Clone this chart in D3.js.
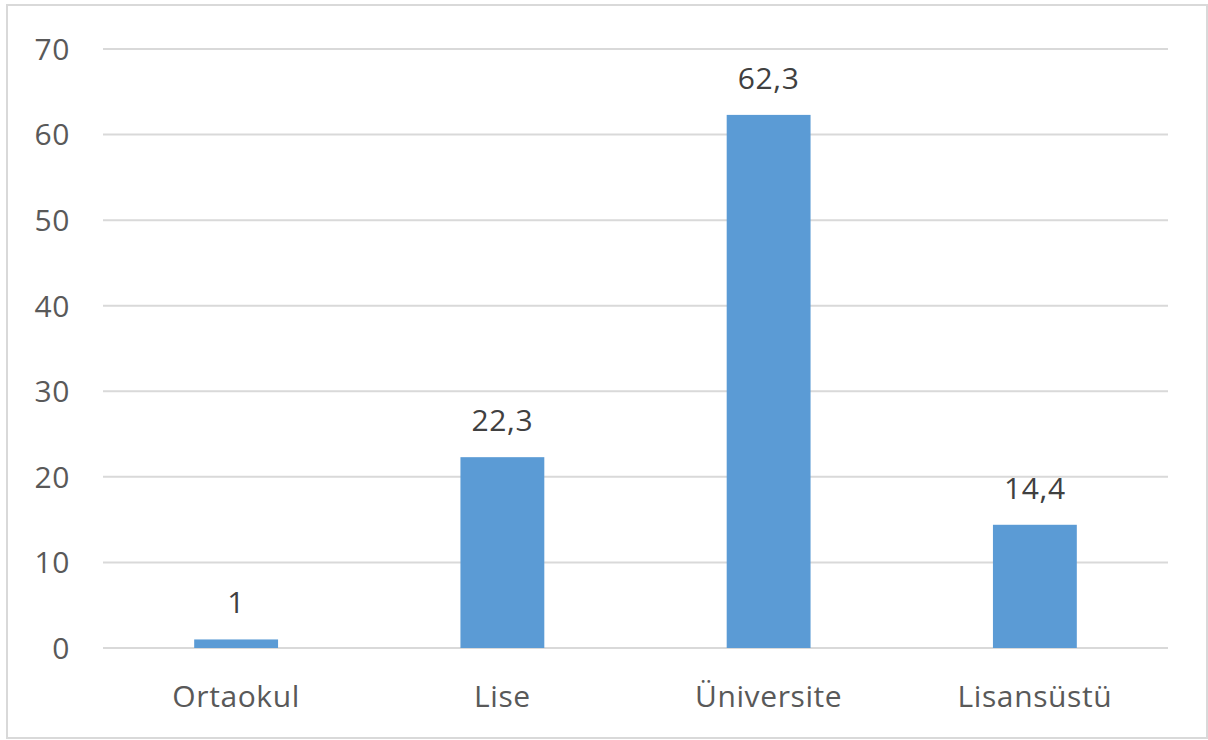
<!DOCTYPE html>
<html>
<head>
<meta charset="utf-8">
<script src="https://cdn.jsdelivr.net/npm/d3@7"></script>
<style>
  body { margin: 0; background: #fff; }
  text { font-family: "Open Sans", sans-serif; letter-spacing: 0.6px; }
</style>
</head>
<body>
<div id="container"></div>
<script>
const categories = ["Ortaokul", "Lise", "Üniversite", "Lisansüstü"];
const values = [1, 22.3, 62.3, 14.4];
const labels = ["1", "22,3", "62,3", "14,4"];
const yTicks = [0, 10, 20, 30, 40, 50, 60, 70];

const w = 1208;
const h = 740;
const plotLeft = 103, plotRight = 1168, plotTop = 49, plotBottom = 648;

const svg = d3.select("#container")
  .append("svg")
  .attr("width", w)
  .attr("height", h);

svg.append("rect")
  .attr("x", 7).attr("y", 5)
  .attr("width", 1200).attr("height", 733)
  .attr("fill", "#fff")
  .attr("stroke", "#d9d9d9")
  .attr("stroke-width", 2);

const xScale = d3.scaleBand()
  .domain(categories)
  .range([plotLeft, plotRight])
  .paddingInner(0.685)
  .paddingOuter(0.3425);

const yScale = d3.scaleLinear()
  .domain([0, 70])
  .range([plotBottom, plotTop]);

// gridlines
svg.append("g")
  .selectAll("line")
  .data(yTicks)
  .enter()
  .append("line")
  .attr("x1", plotLeft)
  .attr("x2", plotRight)
  .attr("y1", d => yScale(d))
  .attr("y2", d => yScale(d))
  .attr("stroke", "#d9d9d9")
  .attr("stroke-width", 2);

// y tick labels
svg.append("g")
  .selectAll("text")
  .data(yTicks)
  .enter()
  .append("text")
  .attr("x", 70)
  .attr("y", d => yScale(d))
  .attr("dy", "0.36em")
  .attr("text-anchor", "end")
  .attr("font-size", 30)
  .attr("fill", "#595959")
  .text(d => d);

svg.selectAll("rect.bar")
  .data(values)
  .enter()
  .append("rect")
  .attr("class", "bar")
  .attr("x", (d, i) => xScale(categories[i]))
  .attr("y", d => yScale(d))
  .attr("width", xScale.bandwidth())
  .attr("height", d => yScale(0) - yScale(d))
  .attr("fill", "#5b9bd5");

// value labels
svg.selectAll("text.val")
  .data(values)
  .enter()
  .append("text")
  .attr("class", "val")
  .attr("x", (d, i) => xScale(categories[i]) + xScale.bandwidth() / 2)
  .attr("y", d => yScale(d) - 26)
  .attr("text-anchor", "middle")
  .attr("font-size", 30)
  .attr("fill", "#404040")
  .text((d, i) => labels[i]);

// category labels
svg.append("g")
  .selectAll("text")
  .data(categories)
  .enter()
  .append("text")
  .attr("x", d => xScale(d) + xScale.bandwidth() / 2)
  .attr("y", 707)
  .attr("text-anchor", "middle")
  .attr("font-size", 30)
  .attr("fill", "#595959")
  .text(d => d);
</script>
</body>
</html>
